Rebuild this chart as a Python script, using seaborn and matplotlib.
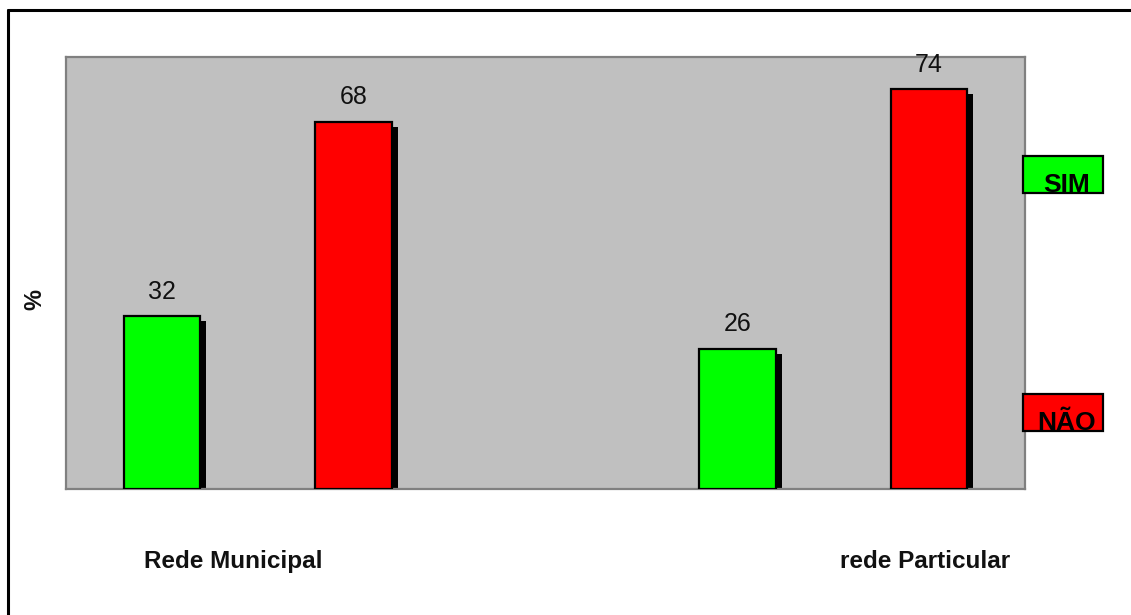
import matplotlib
matplotlib.use("Agg")
import matplotlib.pyplot as plt
import matplotlib.transforms as mtransforms
from matplotlib.patches import Rectangle
from matplotlib.lines import Line2D
import pandas as pd
import seaborn as sns

# Survey answers (%) by school network
categories = ["Rede Municipal", "rede Particular"]
answers = ["SIM", "NÃO"]
sim_values = [32, 26]
nao_values = [68, 74]
colors = {"SIM": "#00FF00", "NÃO": "#FF0000"}

df = pd.DataFrame({
    "rede": categories * 2,
    "resposta": [answers[0]] * 2 + [answers[1]] * 2,
    "pct": sim_values + nao_values,
})

sns.set_theme(style="white")
plt.rcParams["font.family"] = ["Liberation Sans", "DejaVu Sans"]

fig = plt.figure(figsize=(11.31, 6.15), dpi=100)
ax = fig.add_axes([66 / 1131, 126 / 615, 959 / 1131, 432 / 615])

sns.barplot(data=df, x="rede", y="pct", hue="resposta", hue_order=answers,
            palette=colors, width=0.666, gap=0.6, saturation=1,
            edgecolor="black", linewidth=1.6, legend=False, ax=ax, zorder=3)

ax.set_facecolor("#C0C0C0")
ax.set_ylim(0, 80)
ax.set_xlim(-0.333, 1.333)
ax.set_xticks([])
ax.set_yticks([])
ax.set_xlabel("")
ax.set_ylabel("")
for sp in ax.spines.values():
    sp.set_color("#808080")
    sp.set_linewidth(1.6)

# drop shadows behind each bar
shadow_shift = mtransforms.ScaledTranslation(6 / 100, -5 / 100, fig.dpi_scale_trans)
for bar in list(ax.patches):
    sh = Rectangle(bar.get_xy(), bar.get_width(), bar.get_height(),
                   facecolor="black", edgecolor="none",
                   transform=ax.transData + shadow_shift, zorder=2)
    sh.set_clip_path(ax.patch)
    ax.add_patch(sh)

# value labels
for cont in ax.containers:
    ax.bar_label(cont, fmt="%d", padding=9, fontsize=18, color="#111111")

# category labels under the plot
label_x = [0.174, 0.896]
for xpos, name in zip(label_x, categories):
    ax.text(xpos, -0.167, name, transform=ax.transAxes, ha="center", va="center",
            fontsize=17.5, fontweight="bold", color="#111111")

fig.text(35 / 1131, 1 - 300 / 615, "%", rotation=90, ha="center", va="center",
         fontsize=17, fontweight="bold", color="#111111")

# legend entries drawn as labelled boxes on the right
box_tops = [156, 394]
box_w, box_h = 80, 37
for top, ans in zip(box_tops, answers):
    x0 = 1023 / 1131
    y0 = 1 - (top + box_h) / 615
    rect = Rectangle((x0, y0), box_w / 1131, box_h / 615, transform=fig.transFigure,
                     facecolor=colors[ans], edgecolor="black", linewidth=1.6)
    fig.add_artist(rect)
    t = fig.text(x0 + (box_w / 2 + 4) / 1131, y0 + 1 / 615, ans, ha="center",
                 va="baseline", fontsize=19, fontweight="bold", color="black")
    t.set_clip_path(rect)

# outer frame
fig.add_artist(Line2D([8 / 1131, 1], [1 - 10 / 615, 1 - 10 / 615],
                      transform=fig.transFigure, color="black", linewidth=2.2))
fig.add_artist(Line2D([8 / 1131, 8 / 1131], [0, 1 - 10 / 615],
                      transform=fig.transFigure, color="black", linewidth=2.2))

fig.savefig("out.png", dpi=100, facecolor="white")
